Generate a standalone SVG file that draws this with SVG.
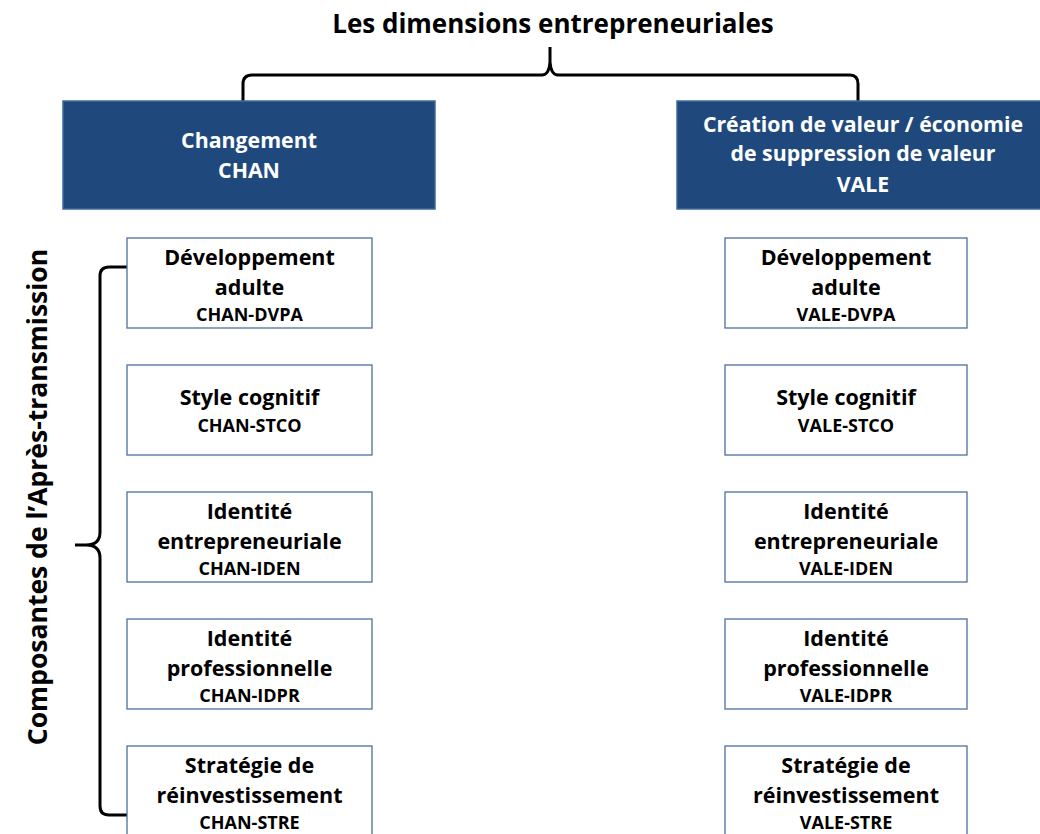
<svg xmlns="http://www.w3.org/2000/svg" width="1040" height="834" viewBox="0 0 1040 834">
<style>
text{font-family:"Open Sans","Liberation Sans",sans-serif;font-weight:bold;text-anchor:middle;fill:#000}
.big{fill:#1F497D;stroke:#41699B;stroke-width:1.5}
.wt{fill:#fff;font-size:21.3px}
.box{fill:#fff;stroke:#4F6FA0;stroke-width:1.3}
.m{font-size:21.5px}
.c{font-size:18px}
.br{fill:none;stroke:#000;stroke-width:3}
</style>
<rect width="1040" height="834" fill="#fff"/>
<text x="553" y="33" font-size="26">Les dimensions entrepreneuriales</text>
<text transform="translate(47,497) rotate(-90)" font-size="26.5">Composantes de l’Après-transmission</text>
<g id="connectors">
<path class="br" d="M243,101 V84 Q243,75 252,75 H542 Q549,75 550,62 V47 M550,62 Q551,75 558,75 H850 Q858,75 858,84 V101"/>
<path class="br" d="M127,267 H109 Q100,267 100,276 V532 Q100,545 86,545 H75 M86,545 Q100,545 100,558 V806 Q100,815 109,815 H127"/>
</g>
<g id="chan">
<rect class="big" x="63" y="101" width="372" height="108"/>
<text class="wt" x="249" y="148">Changement</text>
<text class="wt" x="249" y="178">CHAN</text>
</g>
<g id="vale">
<rect class="big" x="677" y="101" width="370" height="108"/>
<text class="wt" x="863" y="132">Création de valeur / économie</text>
<text class="wt" x="863" y="161">de suppression de valeur</text>
<text class="wt" x="863" y="192">VALE</text>
</g>
<g id="chan-dvpa"><rect class="box" x="127" y="238" width="245" height="90"/>
<text class="m" x="249.5" y="265">Développement</text><text class="m" x="249.5" y="295">adulte</text><text class="c" x="249.5" y="321">CHAN-DVPA</text></g>
<g id="chan-stco"><rect class="box" x="127" y="365" width="245" height="90"/>
<text class="m" x="249.5" y="405">Style cognitif</text><text class="c" x="249.5" y="432">CHAN-STCO</text></g>
<g id="chan-iden"><rect class="box" x="127" y="492" width="245" height="90"/>
<text class="m" x="249.5" y="519">Identité</text><text class="m" x="249.5" y="549">entrepreneuriale</text><text class="c" x="249.5" y="575">CHAN-IDEN</text></g>
<g id="chan-idpr"><rect class="box" x="127" y="619" width="245" height="90"/>
<text class="m" x="249.5" y="646">Identité</text><text class="m" x="249.5" y="676">professionnelle</text><text class="c" x="249.5" y="702">CHAN-IDPR</text></g>
<g id="chan-stre"><rect class="box" x="127" y="746" width="245" height="100"/>
<text class="m" x="249.5" y="773">Stratégie de</text><text class="m" x="249.5" y="803">réinvestissement</text><text class="c" x="249.5" y="829">CHAN-STRE</text></g>
<g id="vale-dvpa"><rect class="box" x="725" y="238" width="242" height="90"/>
<text class="m" x="846" y="265">Développement</text><text class="m" x="846" y="295">adulte</text><text class="c" x="846" y="321">VALE-DVPA</text></g>
<g id="vale-stco"><rect class="box" x="725" y="365" width="242" height="90"/>
<text class="m" x="846" y="405">Style cognitif</text><text class="c" x="846" y="432">VALE-STCO</text></g>
<g id="vale-iden"><rect class="box" x="725" y="492" width="242" height="90"/>
<text class="m" x="846" y="519">Identité</text><text class="m" x="846" y="549">entrepreneuriale</text><text class="c" x="846" y="575">VALE-IDEN</text></g>
<g id="vale-idpr"><rect class="box" x="725" y="619" width="242" height="90"/>
<text class="m" x="846" y="646">Identité</text><text class="m" x="846" y="676">professionnelle</text><text class="c" x="846" y="702">VALE-IDPR</text></g>
<g id="vale-stre"><rect class="box" x="725" y="746" width="242" height="100"/>
<text class="m" x="846" y="773">Stratégie de</text><text class="m" x="846" y="803">réinvestissement</text><text class="c" x="846" y="829">VALE-STRE</text></g>
</svg>
